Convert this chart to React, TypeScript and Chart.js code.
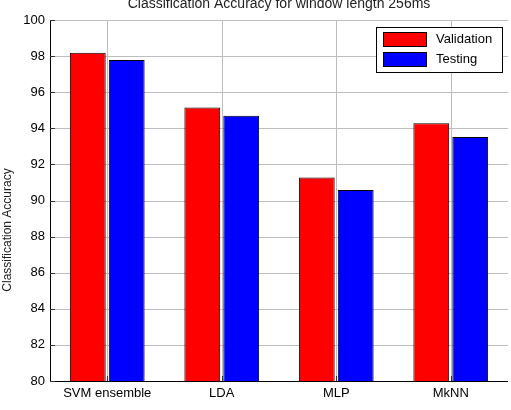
import React, { useEffect, useRef } from "react";
import { Chart, registerables } from "chart.js";

Chart.register(...registerables);

const categories = ["SVM ensemble", "LDA", "MLP", "MkNN"];
const validation = [98.19, 95.15, 91.28, 94.28];
const testing = [97.78, 94.7, 90.58, 93.52];
const seriesNames = ["Validation", "Testing"];
const titleText = "Classification Accuracy for window length 256ms";
const yLabel = "Classification Accuracy";
const FONT = "'Liberation Sans', Arial, sans-serif";
const GRID = "#bdbdbd";

const gridPlugin = {
  id: "vgrid",
  beforeDatasetsDraw(chart: any) {
    const { ctx, chartArea } = chart;
    const { left, right, top, bottom } = chartArea;
    const x = chart.scales.x;
    const y = chart.scales.y;
    ctx.save();
    ctx.strokeStyle = GRID;
    ctx.lineWidth = 1;
    x.ticks.forEach((_t: any, i: number) => {
      const px = Math.round(x.getPixelForTick(i)) + 0.5;
      ctx.beginPath();
      ctx.moveTo(px, top);
      ctx.lineTo(px, bottom);
      ctx.stroke();
    });
    y.ticks.forEach((_t: any, i: number) => {
      const py = Math.round(y.getPixelForTick(i)) + 0.5;
      ctx.beginPath();
      ctx.moveTo(left, py);
      ctx.lineTo(right, py);
      ctx.stroke();
    });
    ctx.restore();
  },
};

const decorPlugin = {
  id: "decor",
  afterDatasetsDraw(chart: any) {
    const { ctx, chartArea } = chart;
    const { left, right, bottom, top } = chartArea;
    const y = chart.scales.y;
    const x = chart.scales.x;
    ctx.save();
    // axes
    ctx.strokeStyle = "#000";
    ctx.lineWidth = 1;
    ctx.beginPath();
    ctx.moveTo(Math.round(left) + 0.5, top);
    ctx.lineTo(Math.round(left) + 0.5, Math.round(bottom) + 0.5);
    ctx.lineTo(right, Math.round(bottom) + 0.5);
    ctx.stroke();
    ctx.strokeStyle = "#333";
    y.ticks.forEach((_t: any, i: number) => {
      const py = Math.round(y.getPixelForTick(i)) + 0.5;
      ctx.beginPath();
      ctx.moveTo(left, py);
      ctx.lineTo(left + 5, py);
      ctx.stroke();
    });
    x.ticks.forEach((_t: any, i: number) => {
      const px = Math.round(x.getPixelForTick(i)) + 0.5;
      ctx.beginPath();
      ctx.moveTo(px, bottom);
      ctx.lineTo(px, bottom - 5);
      ctx.stroke();
    });
    ctx.fillStyle = "#222";
    ctx.font = `14px ${FONT}`;
    ctx.textAlign = "center";
    ctx.textBaseline = "middle";
    ctx.fillText(titleText, (left + right) / 2, 4);
    ctx.font = `12px ${FONT}`;
    ctx.save();
    ctx.translate(8, 230);
    ctx.rotate(-Math.PI / 2);
    ctx.fillText(yLabel, 0, 0);
    ctx.restore();
    const bx = 376, by = 27, bw = 126, bh = 45;
    ctx.fillStyle = "#fff";
    ctx.fillRect(bx, by, bw, bh);
    ctx.strokeStyle = "#000";
    ctx.lineWidth = 1;
    ctx.strokeRect(bx + 0.5, by + 0.5, bw, bh);
    const colors = ["#ff0000", "#0000ff"];
    seriesNames.forEach((name, i) => {
      const sy = 32 + i * 20;
      ctx.fillStyle = colors[i];
      ctx.fillRect(383, sy, 43, 14);
      ctx.strokeStyle = "#000";
      ctx.strokeRect(383.5, sy + 0.5, 43, 14);
      ctx.fillStyle = "#000";
      ctx.font = `13px ${FONT}`;
      ctx.textAlign = "left";
      ctx.textBaseline = "middle";
      ctx.fillText(name, 436, sy + 7.5);
    });
    ctx.restore();
  },
};

export default function App() {
  const ref = useRef<HTMLCanvasElement>(null);
  useEffect(() => {
    document.body.style.margin = "0";
    const chart = new Chart(ref.current!, {
      type: "bar",
      data: {
        labels: categories,
        datasets: [
          {
            label: seriesNames[0],
            data: validation,
            backgroundColor: "#ff0000",
            borderColor: "#000",
            borderWidth: 1,
            borderSkipped: false,
          },
          {
            label: seriesNames[1],
            data: testing,
            backgroundColor: "#0000ff",
            borderColor: "#000",
            borderWidth: 1,
            borderSkipped: false,
          },
        ],
      },
      options: {
        responsive: false,
        animation: false,
        layout: { padding: { left: 0, right: 3, top: 20, bottom: 0 } },
        plugins: { legend: { display: false }, title: { display: false }, tooltip: { enabled: false } },
        datasets: { bar: { categoryPercentage: 0.68, barPercentage: 0.92 } },
        scales: {
          x: {
            grid: { display: false, drawTicks: false },
            border: { display: false },
            ticks: { color: "#000", font: { family: FONT, size: 13 }, padding: 5, maxRotation: 0 },
            afterFit: (s: any) => { s.height = 29; },
          },
          y: {
            min: 80,
            max: 100,
            grid: { display: false, drawTicks: false },
            border: { display: false },
            ticks: { stepSize: 2, color: "#000", font: { family: FONT, size: 13 }, padding: 5 },
            afterFit: (s: any) => { s.width = 50; },
          },
        },
      },
      plugins: [gridPlugin, decorPlugin],
    });
    return () => chart.destroy();
  }, []);
  return (
    <div style={{ position: "absolute", left: 0, top: 0, width: 511, height: 410 }}>
      <canvas ref={ref} width={511} height={410} style={{ display: "block" }} />
    </div>
  );
}
